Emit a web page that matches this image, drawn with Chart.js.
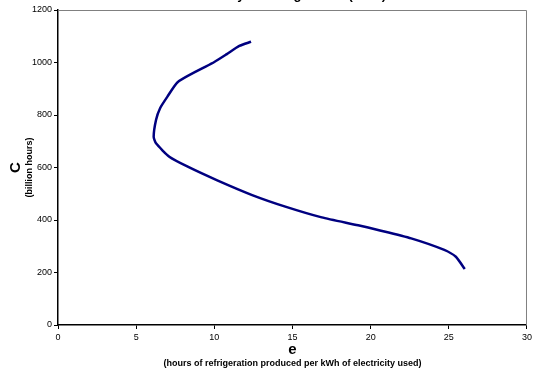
<!DOCTYPE html>
<html>
<head>
<meta charset="utf-8">
<script src="https://cdn.jsdelivr.net/npm/chart.js@4/dist/chart.umd.min.js"></script>
<style>
  html, body { margin: 0; padding: 0; background: #fff; }
  #wrap { width: 535px; height: 374px; }
</style>
</head>
<body>
<div id="wrap"><canvas id="c" width="535" height="374"></canvas></div>
<script>
// e: hours of refrigeration per kWh, C: billion hours
var eValues = [12.35, 11.6, 10.8, 10.0, 9.0, 7.65, 7.0, 6.53, 6.27, 6.12, 6.27, 7.12, 8.3, 10.15, 12.42, 14.54, 16.87, 19.2, 20.47, 22.59, 24.71, 25.45, 26.02];
var cValues = [1079, 1063, 1032, 1002, 971, 925, 870, 826, 781, 717, 692, 641, 603, 552, 495, 451, 410, 380, 362, 330, 286, 260, 213];
var xTicks = [0, 5, 10, 15, 20, 25, 30];
var yTicks = [0, 200, 400, 600, 800, 1000, 1200];

var points = eValues.map(function (e, i) { return { x: e, y: cValues[i] }; });

var FONT = "'Liberation Sans', Arial, sans-serif";

// frame, axis titles and the clipped title at the top
var decor = {
  id: "decor",
  afterDraw: function (chart) {
    var ctx = chart.ctx;
    var a = chart.chartArea;
    ctx.save();
    ctx.strokeStyle = "#808080";
    ctx.lineWidth = 1;
    ctx.beginPath();
    ctx.moveTo(a.left, a.top + 0.5);
    ctx.lineTo(a.right - 0.5, a.top + 0.5);
    ctx.lineTo(a.right - 0.5, a.bottom);
    ctx.stroke();

    ctx.fillStyle = "#000";
    ctx.textAlign = "center";
    ctx.textBaseline = "alphabetic";
    var cx = (a.left + a.right) / 2;
    ctx.font = "bold 15px " + FONT;
    ctx.fillText("e", cx, 354);
    ctx.font = "bold 9px " + FONT;
    ctx.fillText("(hours of refrigeration produced per kWh of electricity used)", cx, 366);

    ctx.translate(0, (a.top + a.bottom) / 2);
    ctx.rotate(-Math.PI / 2);
    ctx.font = "bold 15px " + FONT;
    ctx.fillText("C", 0, 20);
    ctx.font = "bold 9px " + FONT;
    ctx.fillText("(billion hours)", 0, 32);
    ctx.restore();

    ctx.save();
    ctx.fillStyle = "#000";
    ctx.font = "bold 13px " + FONT;
    ctx.textAlign = "right";
    ctx.fillText("Efficiency of Refrigeration (2000)", 386, -1);
    ctx.restore();
  }
};

function plain(v) { return String(v); }

new Chart(document.getElementById("c"), {
  type: "scatter",
  data: {
    datasets: [{
      data: points,
      showLine: true,
      borderColor: "#000080",
      borderWidth: 2.5,
      pointRadius: 0,
      tension: 0.2,
      fill: false
    }]
  },
  options: {
    responsive: false,
    animation: false,
    layout: { padding: { top: 10, right: 5, left: 0, bottom: 0 } },
    plugins: { legend: { display: false }, tooltip: { enabled: false }, title: { display: false } },
    scales: {
      x: {
        type: "linear",
        min: 0, max: 30,
        afterBuildTicks: function (s) { s.ticks = xTicks.map(function (v) { return { value: v }; }); },
        afterFit: function (s) { s.height = 49; },
        grid: { drawOnChartArea: false, drawTicks: true, tickLength: 4, tickColor: "#000", color: "#000" },
        border: { color: "#000", width: 1.5 },
        ticks: { color: "#000", font: { size: 9, family: FONT }, padding: 3, maxRotation: 0, callback: plain }
      },
      y: {
        type: "linear",
        min: 0, max: 1200,
        afterBuildTicks: function (s) { s.ticks = yTicks.map(function (v) { return { value: v }; }); },
        afterFit: function (s) { s.width = 58; },
        grid: { drawOnChartArea: false, drawTicks: true, tickLength: 4, tickColor: "#000", color: "#000" },
        border: { color: "#000", width: 1.5 },
        ticks: { color: "#000", font: { size: 9, family: FONT }, padding: 2, callback: plain }
      }
    }
  },
  plugins: [decor]
});
</script>
</body>
</html>
